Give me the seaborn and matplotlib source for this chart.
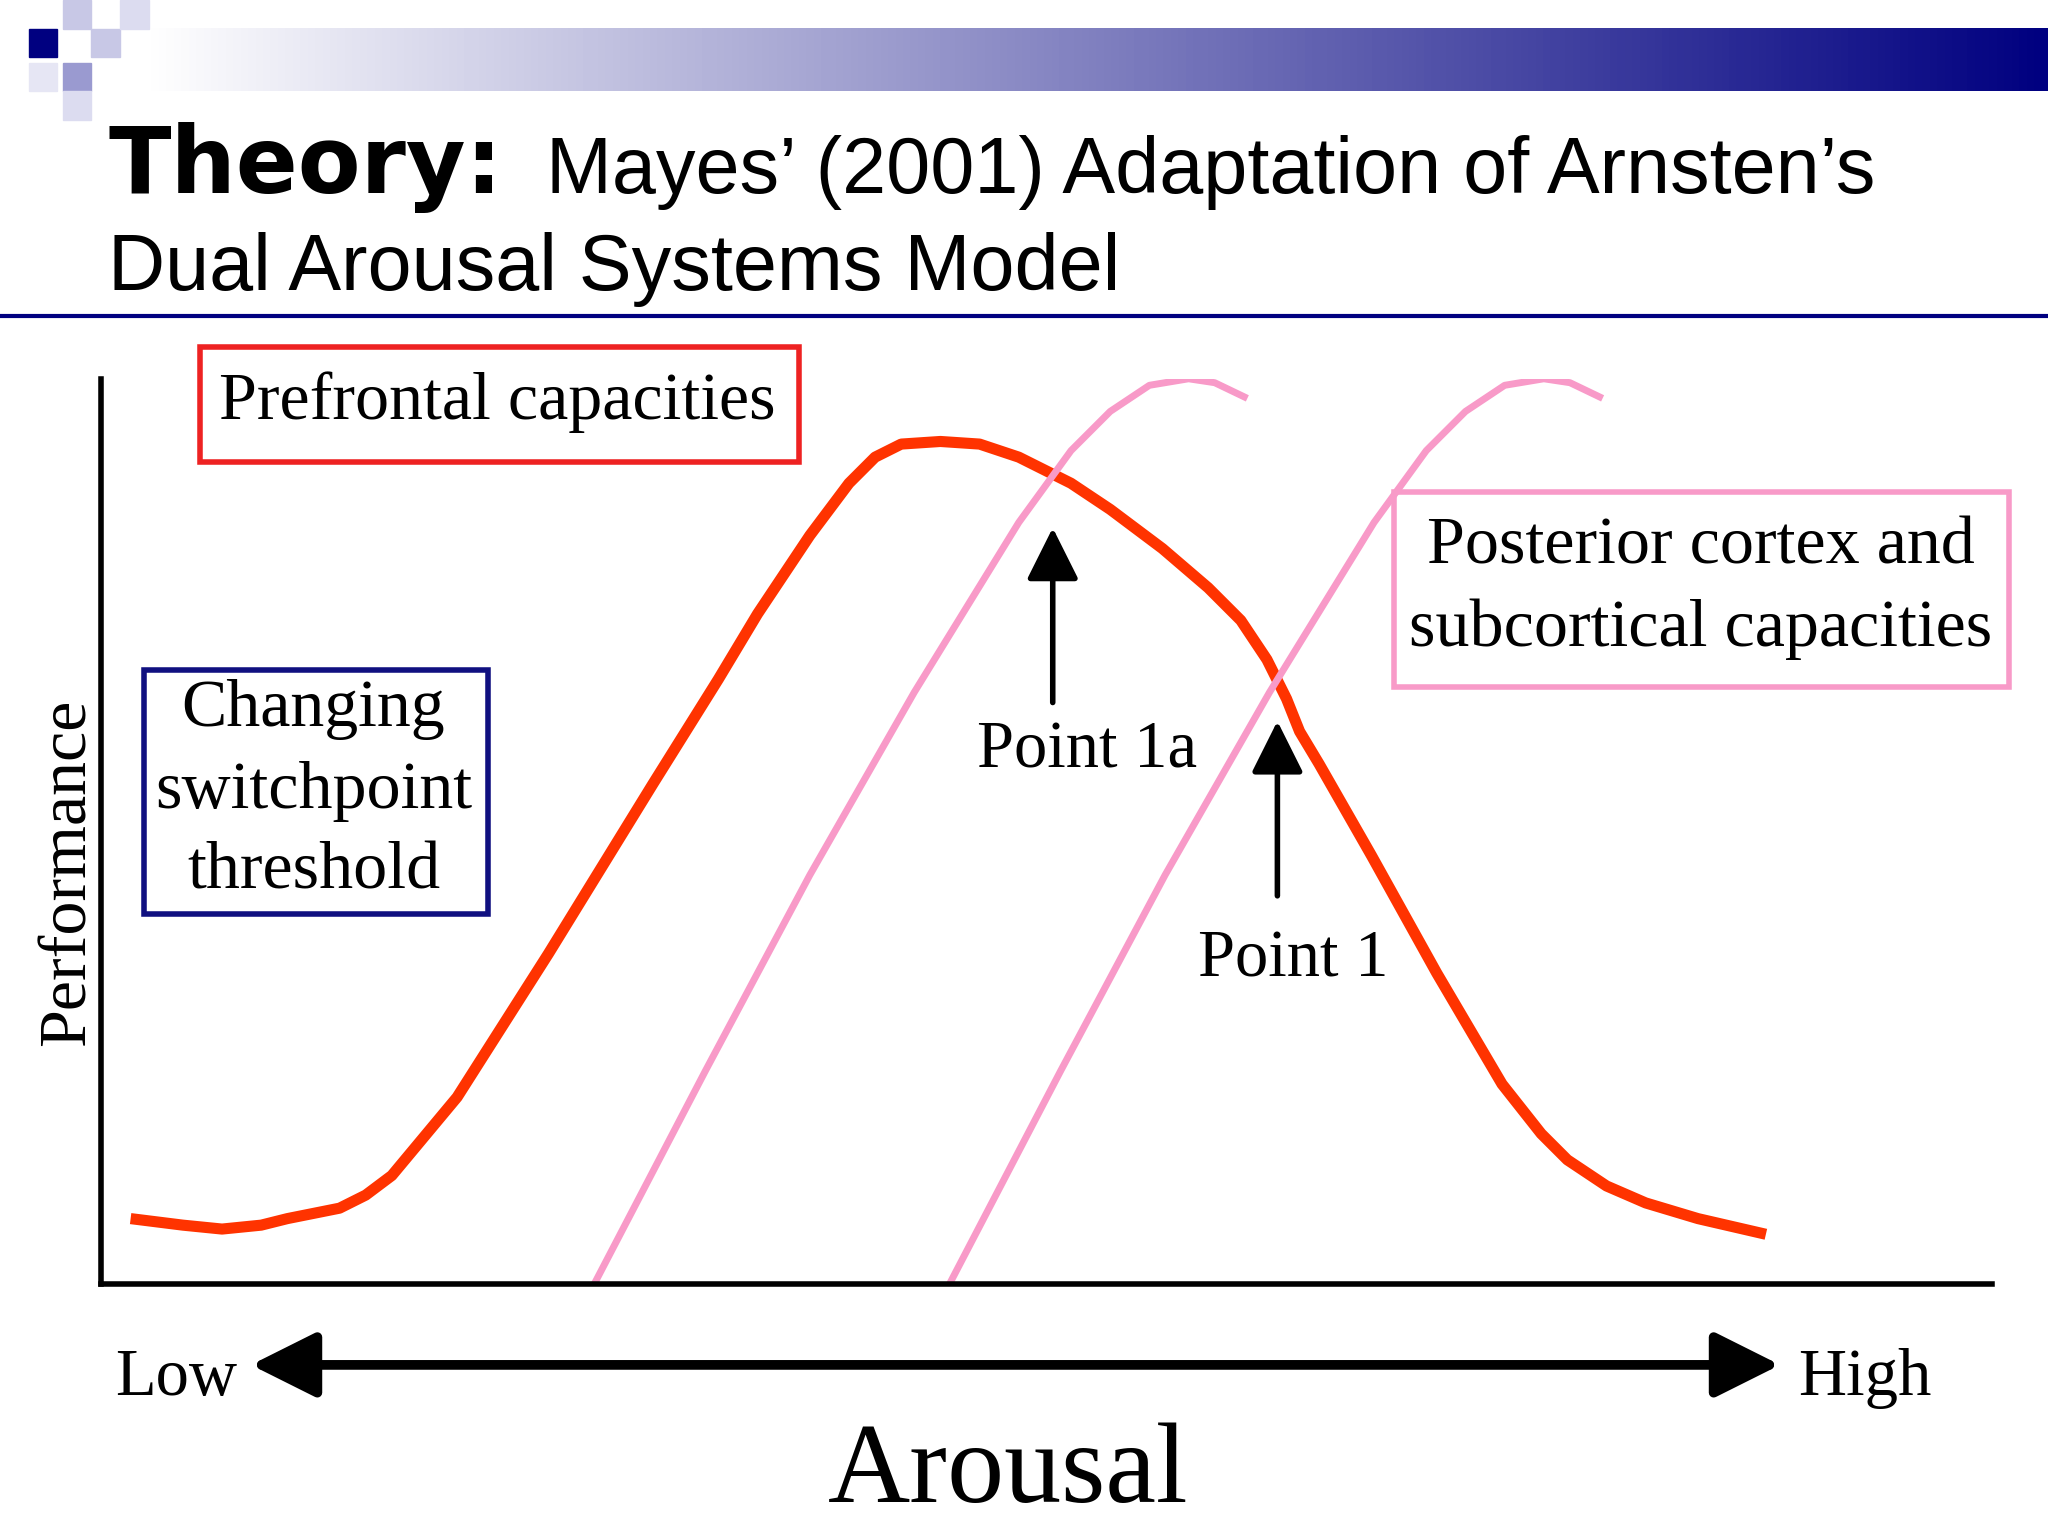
import numpy as np
import matplotlib
matplotlib.use("Agg")
import matplotlib.pyplot as plt
import seaborn as sns
from matplotlib.patches import Rectangle, FancyArrowPatch

sns.set_style("white")
plt.rcParams["text.color"] = "black"
SERIF = ["Liberation Serif", "DejaVu Serif"]
SANS = ["Liberation Sans", "DejaVu Sans"]

# curves: arousal (x) vs performance (y), in plot units
pref_x = [23, 63, 93, 123, 143, 163, 183, 203, 223, 273, 343, 423, 473, 503, 543, 573, 593, 613, 643, 673, 703, 743, 773, 813, 848, 873, 893, 908, 918, 933, 953, 973, 1023, 1073, 1103, 1123, 1153, 1183, 1223, 1275]
pref_y = [50, 45, 42, 45, 50, 54, 58, 68, 83, 143, 253, 383, 463, 513, 573, 613, 633, 643, 645, 643, 633, 613, 593, 563, 533, 508, 478, 448, 423, 398, 363, 328, 238, 153, 115, 95, 75, 62, 50, 38]
post1_x = [378, 463, 543, 623, 703, 743, 773, 803, 833, 853, 878]
post1_y = [0, 163, 313, 453, 583, 638, 668, 688, 693, 690, 678]
shift = 272
post2_x = [v + shift for v in post1_x]
post2_y = post1_y

W, H = 1568, 1176
fig = plt.figure(figsize=(20.48, 15.36), dpi=100)
ov = fig.add_axes([0, 0, 1, 1])
ov.set_xlim(0, W); ov.set_ylim(H, 0); ov.axis("off")

# header decoration
grad = np.linspace(0, 1, 256).reshape(1, -1)
cmap = matplotlib.colors.LinearSegmentedColormap.from_list("g", ["#ffffff", "#000080"])
ov.imshow(grad, cmap=cmap, extent=[110, W, 70, 22], aspect="auto", zorder=0)
for (x, y, c) in [(22, 22, "#000080"), (48, 0, "#c8c8e6"), (70, 22, "#c8c8e6"), (92, 0, "#dcdcf0"),
                  (48, 48, "#9a9ad0"), (22, 48, "#e6e6f4"), (48, 70, "#dcdcf0")]:
    ov.add_patch(Rectangle((x, y), 22, 22, color=c, zorder=1))
ov.plot([0, W], [242, 242], color="#000080", lw=3)
ov.text(83, 148, "Theory:", fontsize=66, fontweight="bold", family=["DejaVu Sans"], va="baseline")
ov.text(418, 148, "Mayes\u2019 (2001) Adaptation of Arnsten\u2019s", fontsize=57, family=SANS, va="baseline")
ov.text(83, 222, "Dual Arousal Systems Model", fontsize=57, family=SANS, va="baseline")

# main plot
ax = fig.add_axes([77 / W, (H - 983) / H, (1525 - 77) / W, (983 - 290) / H])
ax.set_xlim(0, 1448); ax.set_ylim(0, 693)
kw = dict(sort=False, solid_capstyle="butt", solid_joinstyle="round")
sns.lineplot(x=pref_x, y=pref_y, ax=ax, color="#ff3300", lw=8, **kw)
sns.lineplot(x=post1_x, y=post1_y, ax=ax, color="#f89ac8", lw=5, **kw)
sns.lineplot(x=post2_x, y=post2_y, ax=ax, color="#f89ac8", lw=5, **kw)
ax.set_xticks([]); ax.set_yticks([])
for s in ["top", "right"]:
    ax.spines[s].set_visible(False)
for s in ["left", "bottom"]:
    ax.spines[s].set_linewidth(4); ax.spines[s].set_color("black")
ax.set_facecolor("none")

# arrows
for x0, y0, y1 in [(806, 540, 402), (978, 688, 550)]:
    ov.add_patch(FancyArrowPatch((x0, y0), (x0, y1), arrowstyle="-|>,head_length=1.6,head_width=0.8",
                                 mutation_scale=20, lw=4, color="black"))
ov.add_patch(FancyArrowPatch((190, 1045), (1365, 1045), arrowstyle="<|-|>,head_length=2.0,head_width=1.0",
                             mutation_scale=20, lw=7, color="black"))

# labels
ov.text(832, 575, "Point 1a", fontsize=48, family=SERIF, ha="center", va="center")
ov.text(990, 735, "Point 1", fontsize=48, family=SERIF, ha="center", va="center")
ov.text(135, 1068, "Low", fontsize=48, family=SERIF, ha="center", va="baseline")
ov.text(1428, 1068, "High", fontsize=48, family=SERIF, ha="center", va="baseline")
ov.text(772, 1150, "Arousal", fontsize=82, family=SERIF, ha="center", va="baseline")
ov.text(52, 668, "Performance", fontsize=49, family=SERIF, ha="center", va="center", rotation=90)

def box(x0, y0, x1, y1, ec, lines, cx, ys):
    ov.add_patch(Rectangle((x0, y0), x1 - x0, y1 - y0, fill=False, ec=ec, lw=4))
    for t, y in zip(lines, ys):
        ov.text(cx, y, t, fontsize=49, family=SERIF, ha="center", va="center")

box(153, 266, 612, 354, "#ee2222", ["Prefrontal capacities"], 381, [308])
box(110, 513, 374, 700, "#101080", ["Changing", "switchpoint", "threshold"], 240, [543, 606, 668])
box(1067, 377, 1538, 526, "#f89ac8", ["Posterior cortex and", "subcortical capacities"], 1302, [419, 482])

fig.savefig("out.png", dpi=100, facecolor="white")
